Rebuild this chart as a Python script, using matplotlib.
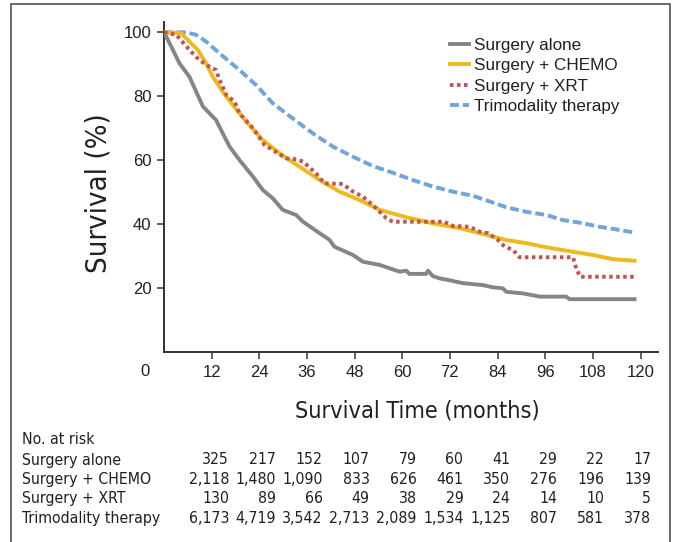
import numpy as np
import matplotlib
matplotlib.use("Agg")
import matplotlib.pyplot as plt
import matplotlib.patches as mpatches

# --- Datos ---
alone_t = [0, 1.4, 3.9, 6.4, 9.8, 13.1, 14.8, 16.5, 19.0, 22.4, 24.9, 27.4, 29.9, 33.3,
           35.0, 39.2, 41.7, 42.9, 47.6, 50.1, 54.3, 59.3, 61.0, 61.8, 66.0, 66.5, 67.7,
           69.4, 71.9, 75.3, 80.3, 82.8, 85.3, 86.2, 90.4, 94.6, 101.3, 102.1, 118.5]
alone_s = [100, 96.6, 90.3, 86.1, 76.8, 72.6, 68.4, 64.3, 60.1, 54.9, 50.7, 48.1, 44.5, 42.9,
           40.8, 37.2, 35.1, 33.0, 30.4, 28.3, 27.3, 25.2, 25.5, 24.5, 24.5, 25.5, 23.8,
           23.1, 22.5, 21.6, 21.0, 20.3, 20.0, 18.9, 18.4, 17.4, 17.4, 16.6, 16.6]

chemo_t = [0, 4.3, 6.4, 8.5, 10.6, 12.3, 14.8, 17.3, 20.7, 24.9, 29.1, 34.1, 39.2, 44.2,
           49.2, 54.3, 61.0, 67.7, 74.4, 81.2, 86.2, 91.2, 96.3, 103.0, 108.0, 113.1, 118.5]
chemo_s = [100, 99.7, 97.1, 94.5, 90.3, 86.1, 81.4, 77.3, 72.1, 66.3, 62.2, 58.0, 53.8, 50.2,
           47.6, 44.5, 42.2, 40.3, 38.8, 36.7, 35.1, 34.1, 32.8, 31.4, 30.4, 29.1, 28.6]

xrt_t = [0, 3.1, 6.4, 8.9, 11.5, 13.1, 14.0, 15.7, 17.8, 19.0, 22.4, 25.3, 27.4, 30.8, 33.3,
         35.0, 38.3, 40.4, 45.0, 47.6, 50.1, 52.6, 56.0, 57.6, 69.4, 70.2, 72.7, 77.0,
         79.5, 81.6, 84.1, 85.8, 87.9, 89.5, 103.0, 103.8, 104.8, 118.5]
xrt_s = [100, 99.2, 94.5, 91.3, 89.2, 88.2, 85.1, 80.4, 78.3, 74.7, 70.0, 64.8, 63.2, 60.6, 60.3,
         59.6, 55.9, 52.8, 52.6, 50.2, 48.6, 46.0, 41.9, 40.8, 40.8, 41.0, 39.5, 39.2,
         37.7, 37.2, 35.1, 33.0, 32.0, 29.7, 29.7, 26.2, 23.6, 23.6]

tri_t = [0, 5.6, 8.1, 10.6, 14.0, 19.0, 23.2, 27.4, 32.4, 37.5, 42.5, 47.6, 52.6, 57.6,
         62.7, 67.7, 72.7, 77.8, 82.8, 86.2, 91.2, 96.3, 100.5, 104.7, 109.7, 113.9, 118.5]
tri_s = [100, 100, 99.2, 97.1, 93.4, 88.2, 83.5, 77.8, 73.1, 68.4, 64.3, 61.1, 58.2, 56.1,
         53.8, 51.8, 50.2, 48.9, 46.8, 45.3, 43.9, 42.9, 41.3, 40.5, 39.2, 38.4, 37.4]

labels = ["Surgery alone", "Surgery + CHEMO", "Surgery + XRT", "Trimodality therapy"]
x_ticks = [12, 24, 36, 48, 60, 72, 84, 96, 108, 120]
y_ticks = [20, 40, 60, 80, 100]

risk_alone = ["325", "217", "152", "107", "79", "60", "41", "29", "22", "17"]
risk_chemo = ["2,118", "1,480", "1,090", "833", "626", "461", "350", "276", "196", "139"]
risk_xrt = ["130", "89", "66", "49", "38", "29", "24", "14", "10", "5"]
risk_tri = ["6,173", "4,719", "3,542", "2,713", "2,089", "1,534", "1,125", "807", "581", "378"]

# --- Fuentes ---
plt.rcParams['font.family'] = ['Liberation Sans', 'DejaVu Sans']
COND = dict(family='DejaVu Sans', stretch='condensed')
TXT = '#231f20'

# --- Figura ---
fig = plt.figure(figsize=(6.75, 5.42), dpi=100)
ax = fig.add_axes([164 / 675, 1 - 352.3 / 542, (658 - 164) / 675, (352.3 - 21.7) / 542])

LW = 2.8
ax.plot(alone_t, alone_s, color='#858585', lw=LW, label=labels[0], zorder=3)
ax.plot(chemo_t, chemo_s, color='#efb81c', lw=LW, label=labels[1], zorder=4)
ax.plot(xrt_t, xrt_s, color='#bf5450', lw=LW, ls=(0, (0.9, 0.9)), label=labels[2], zorder=5)
ax.plot(tri_t, tri_s, color='#6fa5db', lw=LW, ls=(0, (2.3, 1.0)), label=labels[3], zorder=2)

ax.set_xlim(0, 124.4)
ax.set_ylim(0, 103.3)
ax.set_xticks(x_ticks)
ax.set_yticks(y_ticks)
ax.tick_params(labelsize=12, length=5, width=1.1, color='#333333', labelcolor=TXT, pad=4)
for s in ['top', 'right']:
    ax.spines[s].set_visible(False)
for s in ['left', 'bottom']:
    ax.spines[s].set_linewidth(1.4)
    ax.spines[s].set_color('#333333')

# "0" compartido en el origen
ax.text(-4.8, -5.9, "0", fontsize=12, color=TXT, ha='center', va='center', clip_on=False)

fig.text(98 / 675, 1 - 193 / 542, "Survival (%)", rotation=90, fontsize=21,
         color=TXT, ha='center', va='center', **COND)
fig.text(417 / 675, 1 - 411 / 542, "Survival Time (months)", fontsize=16.8,
         color=TXT, ha='center', va='center', **COND)

leg = ax.legend(loc='upper left', bbox_to_anchor=((450 - 164) / 494, 0.952), frameon=False,
                fontsize=12.3, handlelength=1.1, handletextpad=0.3, labelspacing=0.32,
                borderaxespad=0, borderpad=0)
for t in leg.get_texts():
    t.set_color(TXT)

# --- Tabla de pacientes en riesgo ---
tabla_fs = 11.3
fig.text(22 / 675, 1 - 440 / 542, "No. at risk", fontsize=tabla_fs, color=TXT,
         va='center', **COND)
col_x = np.linspace(229, 651, len(x_ticks)) / 675
for fila, (nombre, valores) in enumerate(zip(labels, [risk_alone, risk_chemo, risk_xrt, risk_tri])):
    y = 1 - (460 + fila * 19.4) / 542
    fig.text(22 / 675, y, nombre, fontsize=tabla_fs, color=TXT, va='center', **COND)
    for cx, v in zip(col_x, valores):
        fig.text(cx, y, v, fontsize=tabla_fs, color=TXT, ha='right', va='center', **COND)

# Marco exterior
fig.patches.append(mpatches.Rectangle((11 / 675, -0.05), (670 - 11) / 675, 1.05 - 4 / 542,
                                      transform=fig.transFigure, fill=False,
                                      edgecolor='#444444', lw=1.1))

fig.savefig("out.png", dpi=100)
